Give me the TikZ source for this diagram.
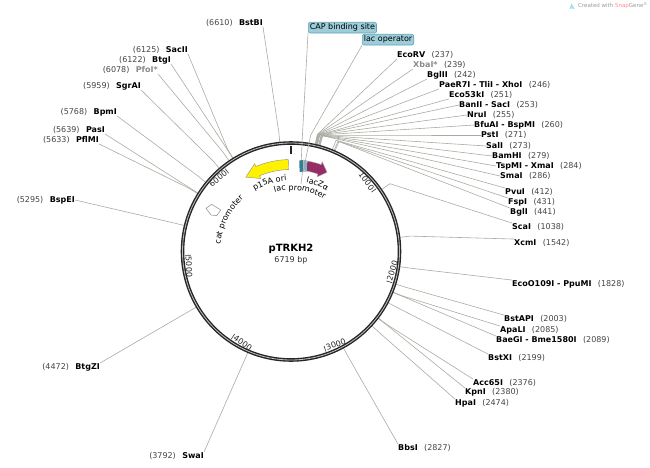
\documentclass[tikz,border=0pt]{standalone}
\usepackage{fontspec}
\setmainfont{DejaVu Sans}
\usetikzlibrary{calc,decorations.text}
\definecolor{sitegrey}{HTML}{ABABA3}
\definecolor{posgrey}{HTML}{444444}
\definecolor{dimgrey}{HTML}{8A8A8A}
\definecolor{boxblue}{HTML}{9CCDD9}
\definecolor{boxedge}{HTML}{5FA5B5}
\definecolor{tealfeat}{HTML}{2F7F97}
\definecolor{lacpurple}{HTML}{962D67}
\tikzset{
  sitelabel/.style={inner sep=0pt,font=\fontsize{8}{9}\selectfont,text height=6pt,text depth=1.5pt},
  sitelink/.style={sitegrey,line width=.6pt},
  ticklabel/.style={inner sep=0pt,font=\fontsize{8}{9}\selectfont,text=black!85},
  featbox/.style={fill=boxblue,draw=boxedge,line width=.6pt,rounded corners=2pt,inner xsep=1.5pt,inner ysep=1.5pt,font=\fontsize{8}{9}\selectfont},
  ringline/.style={line width=1.4pt,black!85,double=black!25,double distance=.8pt},
}
\newcommand{\sitepos}[1]{\textcolor{posgrey}{(#1)}}
% tail, head base and tip of a feature, as clock angles
\newcommand{\featarrow}[4]{%
  \draw[#4] plot[domain=#1:#2,samples=16] ({\x-90}:92) -- ({#2-90}:95) -- ({#3-90}:87) -- ({#2-90}:79)
    -- plot[domain=#2:#1,samples=16] ({\x-90}:82) -- cycle;}
% text set along the ring: radius, first and last clock angle
\newcommand{\ringtext}[4]{%
  \path[decorate,decoration={text along path,text align=center,text={|\fontsize{8}{9}\selectfont|#4}}]
    plot[domain=#2:#3,samples=30] ({\x-90}:#1);}
\begin{document}
\begin{tikzpicture}[x=1pt,y=-1pt]
\useasboundingbox (0,0) rectangle (650,468);
\coordinate (cen) at (291,251.5);
% sites on the right
\foreach \nm/\lx/\ly/\bp/\an [count=\i] in {
  {\textbf{EcoRV}}/397/55/237/south west,
  {\textbf{\textcolor{dimgrey}{XbaI*}}}/413/65/239/south west,
  {\textbf{BglII}}/427/75/242/south west,
  {\textbf{PaeR7I - TliI - XhoI}}/439/85/246/south west,
  {\textbf{Eco53kI}}/449/95/251/south west,
  {\textbf{BanII - SacI}}/459/105/253/west,
  {\textbf{NruI}}/467/115/255/west,
  {\textbf{BfuAI - BspMI}}/474/125/260/west,
  {\textbf{PstI}}/481/135.5/271/west,
  {\textbf{SalI}}/486/146/273/west,
  {\textbf{BamHI}}/492/156/279/west,
  {\textbf{TspMI - XmaI}}/496/166/284/west,
  {\textbf{SmaI}}/500/176/286/west,
  {\textbf{PvuI}}/505/192/412/north west,
  {\textbf{FspI}}/508/202/431/north west,
  {\textbf{BglI}}/510/212/441/north west,
  {\textbf{ScaI}}/512/227/1038/north west,
  {\textbf{XcmI}}/514/243/1542/north west,
  {\textbf{EcoO109I - PpuMI}}/512/284/1828/north west,
  {\textbf{BstAPI}}/504/319/2003/north west,
  {\textbf{ApaLI}}/500/330/2085/north west,
  {\textbf{BaeGI - Bme1580I}}/496/340/2089/north west,
  {\textbf{BstXI}}/488/358/2199/north west,
  {\textbf{Acc65I}}/473/383/2376/north west,
  {\textbf{KpnI}}/465/392/2380/north west,
  {\textbf{HpaI}}/455/403/2474/north west,
  {\textbf{BbsI}}/398/448/2827/north west}
{
  \pgfmathsetmacro{\ang}{\bp/6719*360-90}
  \node[sitelabel,anchor=west] (r\i) at (\lx,\ly) {\nm\hspace{.8em}\sitepos{\bp}};
  \coordinate (rk\i) at ($(cen)+(\ang:120)$);
  \coordinate (rs\i) at ($(cen)+(\ang:110)$);
  \draw[sitelink] (r\i.\an) -- (rk\i) -- (rs\i);
}
% sites on the left
\foreach \nm/\lx/\ly/\bp/\an [count=\i] in {
  {\textbf{BstBI}}/263/23/6610/south east,
  {\textbf{SacII}}/188/50/6125/south east,
  {\textbf{BtgI}}/171/60/6122/south east,
  {\textbf{\textcolor{dimgrey}{PfoI*}}}/158/70/6078/south east,
  {\textbf{SgrAI}}/141/86/5959/south east,
  {\textbf{BpmI}}/117/112/5768/south east,
  {\textbf{PasI}}/105/130/5639/south east,
  {\textbf{PflMI}}/99/140/5633/south east,
  {\textbf{BspEI}}/75/200/5295/east,
  {\textbf{BtgZI}}/100/367/4472/north east,
  {\textbf{SwaI}}/204/456/3792/north east}
{
  \pgfmathsetmacro{\ang}{\bp/6719*360-90}
  \node[sitelabel,anchor=east] (l\i) at (\lx,\ly) {\sitepos{\bp}\hspace{.8em}\nm};
  \coordinate (lk\i) at ($(cen)+(\ang:120)$);
  \coordinate (ls\i) at ($(cen)+(\ang:110)$);
  \draw[sitelink] (l\i.\an) -- (lk\i) -- (ls\i);
}
\draw[ringline] (cen) circle (108.5);
\coordinate (zeroa) at ($(cen)+(-90:106)$);
\coordinate (zerob) at ($(cen)+(-90:98)$);
\draw[black!85,line width=1.2pt] (zeroa) -- (zerob);
% scale marks, rotated along the ring
\foreach \bp/\rot/\an in {1000/-53.6/east,2000/72.9/west,3000/19.3/west,4000/-34.3/west,5000/-87.9/west,6000/38.4/east}
{
  \pgfmathsetmacro{\ang}{\bp/6719*360-90}
  \coordinate (o\bp) at ($(cen)+(\ang:106)$);
  \coordinate (i\bp) at ($(cen)+(\ang:100)$);
  \draw[black!80,line width=.6pt] (o\bp) -- (i\bp);
  \node[ticklabel,rotate=\rot,anchor=\an] (t\bp) at ($(cen)+(\ang:102.5)$) {\,\bp\,};
}
\node[font=\bfseries\fontsize{10}{12}\selectfont,inner sep=0pt] (plasmid) at (291,249) {pTRKH2};
\node[font=\fontsize{8}{9}\selectfont,text=black!80,inner sep=0pt] (size) at (291,260.5) {6719 bp};
% features
\begin{scope}[shift={(cen)}]
  \featarrow{-1.7}{-22.5}{-31.3}{fill=yellow,draw=black!45,line width=.4pt}
  \featarrow{10.3}{19.2}{24.5}{fill=lacpurple,draw=black!30,line width=.4pt}
  \ringtext{71}{-32}{-2.4}{p15A ori}
  \ringtext{61.5}{-18}{35}{lac promoter}
  \ringtext{70.5}{12.3}{30.5}{lacZα}
  \ringtext{71}{-85}{-41}{cat promoter}
\end{scope}
\draw[fill=white,draw=black!45,line width=.5pt] (206,208.3) -- (211.7,204.3) -- (220.7,210) -- (216.7,215.7) -- (211,215) -- cycle;
\fill[tealfeat] (299.3,160.5) -- (303,160) -- (303.4,171.5) -- (299.6,172) -- cycle;
\fill[tealfeat!60] (304,160) -- (306.7,160) -- (306.9,171.5) -- (304.3,171.5) -- cycle;
\draw[black!45,line width=.4pt,fill=white] (303,160) -- (304,160) -- (304.3,171.5) -- (303.4,171.5) -- cycle;
\coordinate (capfoot) at (301.3,160);
\coordinate (capbend) at (302,143);
\coordinate (opfoot) at (305.5,160);
\coordinate (opbend) at (310.7,135);
\coordinate (promtop) at (302.5,172);
\coordinate (promfoot) at (301,184);
\node[featbox,anchor=north west] (cap) at (308,22) {CAP binding site};
\node[featbox,anchor=north west] (lacop) at (362,34) {lac operator};
\draw[sitelink] (cap.south west) -- (capbend) -- (capfoot);
\draw[sitelink] (lacop.south west) -- (opbend) -- (opfoot);
\draw[sitelink] (promtop) -- (promfoot);
% SnapGene mark
\fill[cyan!40] (569.5,9) -- (571.5,3.5) -- (574.5,9) -- (572.5,9) -- (571.5,6.5) -- (571,9) -- cycle;
\node[inner sep=0pt,anchor=west,font=\fontsize{5.5}{6}\selectfont,text=black!40] (credit) at (578,6) {Created with \textcolor{red!45}{Snap}Gene\textsuperscript{®}};
\end{tikzpicture}
\end{document}
